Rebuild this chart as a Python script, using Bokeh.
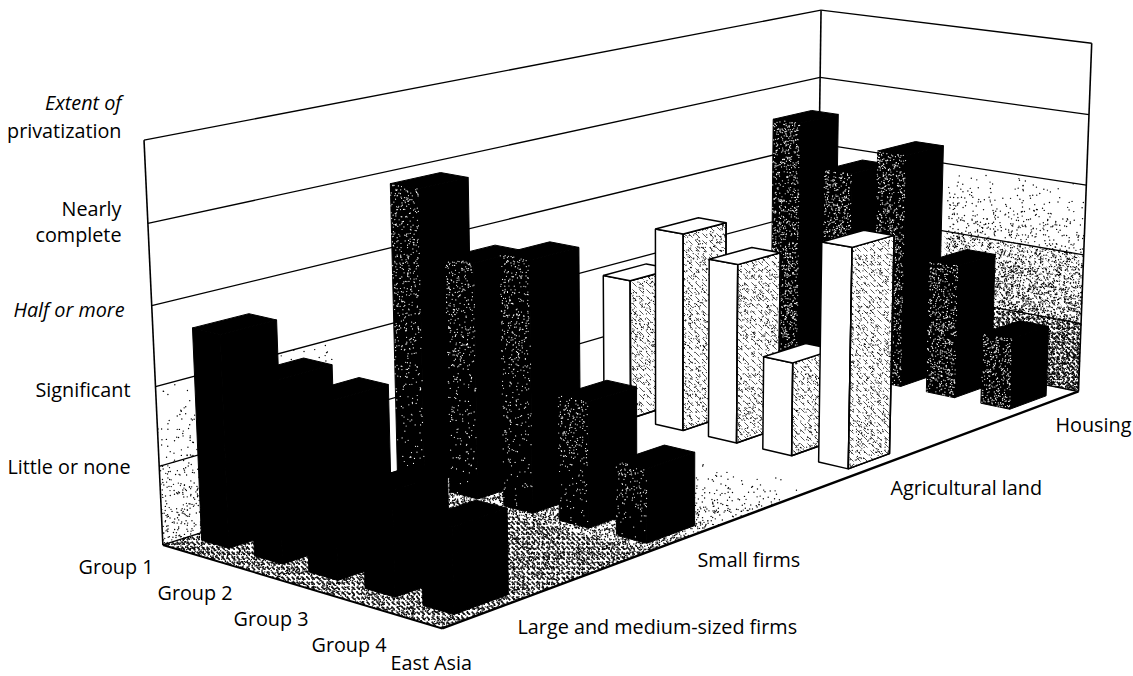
import numpy as np
from bokeh.core.properties import value
from bokeh.embed import file_html
from bokeh.models import Range1d
from bokeh.plotting import figure
from bokeh.resources import INLINE

# Category and series names
groups = ["Group 1", "Group 2", "Group 3", "Group 4", "East Asia"]
sectors = ["Large and medium-sized firms", "Small firms", "Agricultural land", "Housing"]

# Extent of privatization per group, one list per sector
large_firms = [2.68, 2.28, 2.2, 1.3, 1.05]
small_firms = [3.9, 3.08, 3.26, 1.62, 0.95]
agricultural_land = [1.96, 2.75, 2.47, 1.28, 2.98]
housing = [3.6, 2.98, 3.37, 1.92, 1.02]
series = [large_firms, small_firms, agricultural_land, housing]

# Level labels on the left wall
levels = [1, 2, 3, 4, 5]
level_labels = [["Little or none"], ["Significant"], ["Half or more"],
                ["Nearly", "complete"], ["Extent of", "privatization"]]
level_italic = [[False], [False], [True], [False, False], [True, False]]
level_label_x = [130, 130, 124, 121, 121]
level_label_y = [[466], [389], [309], [208, 234], [102, 130]]

# Camera: image points of known box positions (u along groups, v along sectors, z up)
box_world = np.array([
    (0, 0, 0), (0, 0, 1), (0, 0, 2), (0, 0, 3), (0, 0, 4), (0, 0, 5),
    (5, 0, 0),
    (0, 4, 5), (0, 4, 4), (0, 4, 3),
    (5, 4, 0), (5, 4, 1), (5, 4, 2), (5, 4, 3), (5, 4, 4), (5, 4, 5),
], dtype=float)
box_image = np.array([
    (162, 545), (158, 465), (156, 386), (152, 305), (147, 223), (143, 140),
    (442, 628),
    (820, 10), (819, 77), (820, 143),
    (1078, 392), (1080, 322), (1083, 255), (1086, 184), (1088, 114), (1092, 43),
], dtype=float)


def fit_camera(world, image):
    rows = []
    for (x, y, z), (a, b) in zip(world, image):
        rows.append([x, y, z, 1, 0, 0, 0, 0, -a * x, -a * y, -a * z, -a])
        rows.append([0, 0, 0, 0, x, y, z, 1, -b * x, -b * y, -b * z, -b])
    return np.linalg.svd(np.array(rows))[2][-1].reshape(3, 4)


CAMERA = fit_camera(box_world, box_image)


def project(points):
    pts = np.asarray(points, dtype=float)
    homog = np.c_[pts, np.ones(len(pts))] @ CAMERA.T
    return homog[:, 0] / homog[:, 2], homog[:, 1] / homog[:, 2]


p = figure(width=1133, height=676, x_range=Range1d(0, 1133), y_range=Range1d(676, 0),
           toolbar_location=None, output_backend="svg", min_border=0,
           background_fill_color="white", border_fill_color="white", outline_line_color=None)
p.axis.visible = False
p.grid.visible = False


def face(corners, fill="white", line=None, width=1.0, **hatch):
    xs, ys = project(corners)
    kwargs = dict(fill_color=fill, line_color=line, line_width=width)
    if fill is None:
        kwargs["fill_alpha"] = 0
    kwargs.update(hatch)
    p.patches([list(xs)], [list(ys)], **kwargs)


def segment(a, b, width=1.3, color="black"):
    xs, ys = project([a, b])
    p.line(list(xs), list(ys), line_color=color, line_width=width)


def hatch(corners, pattern, scale, weight, alpha):
    face(corners, fill=None, hatch_pattern=pattern, hatch_scale=scale,
         hatch_weight=weight, hatch_color="black", hatch_alpha=alpha)


# Halftone grain: hashed point positions thinned by a density ramp along the face
grain_offset = 0


def hashed(index, a, b):
    return (np.sin(index * a + b) * 43758.5453) % 1


def grain(corners, density_low, density_high, color="black", size=1.4):
    """Stipple a quad; density runs from the edge 0-1 to the edge 3-2."""
    global grain_offset
    corners = np.asarray(corners, dtype=float)
    xs, ys = project(corners)
    area = 0.5 * abs(np.dot(xs, np.roll(ys, 1)) - np.dot(ys, np.roll(xs, 1)))
    peak = max(density_low, density_high)
    count = int(area * peak)
    if count == 0:
        return
    index = np.arange(1, count + 1, dtype=float) + grain_offset
    grain_offset += count
    s, t, keep = hashed(index, 12.9898, 0.3), hashed(index, 78.233, 1.7), hashed(index, 37.719, 2.9)
    keep_mask = keep * peak < density_low + (density_high - density_low) * t
    s, t = s[keep_mask][:, None], t[keep_mask][:, None]
    world = (1 - t) * ((1 - s) * corners[0] + s * corners[1]) + t * ((1 - s) * corners[3] + s * corners[2])
    gx, gy = project(world)
    p.scatter(list(gx), list(gy), marker="circle", size=size, fill_color=color, line_color=None)


# Graded shading on the left wall, only near its front edge
grain([(0, 0, 0), (0, 0.9, 0), (0, 0.9, 1), (0, 0, 1)], 0.1, 0.03)
grain([(0, 0, 1), (0, 0.9, 1), (0, 0.9, 2), (0, 0, 2)], 0.03, 0.005)

# Graded shading on the back wall, visible beyond the tall bars
hatch([(0, 4, 0), (5, 4, 0), (5, 4, 1), (0, 4, 1)], "left_diagonal_dash", 5, 1.6, 0.9)
hatch([(0, 4, 1), (5, 4, 1), (5, 4, 2), (0, 4, 2)], "left_diagonal_dash", 6, 0.8, 0.3)
grain([(2.5, 4, 0), (5, 4, 0), (5, 4, 1), (2.5, 4, 1)], 0.45, 0.32)
grain([(2.5, 4, 1), (5, 4, 1), (5, 4, 2), (2.5, 4, 2)], 0.3, 0.12)
grain([(2.5, 4, 2), (5, 4, 2), (5, 4, 3), (2.5, 4, 3)], 0.07, 0.0)

# Graded shading on the floor
floor_front = [(0, 0, 0), (5, 0, 0), (5, 1.1, 0), (0, 1.1, 0)]
hatch(floor_front, "left_diagonal_dash", 5, 1.7, 0.9)
grain(floor_front, 0.22, 0.22)
grain([(0, 1.1, 0), (5, 1.1, 0), (5, 1.5, 0), (0, 1.5, 0)], 0.35, 0.1)
grain([(0, 1.5, 0), (5, 1.5, 0), (5, 2.15, 0), (0, 2.15, 0)], 0.1, 0.0)

# Wall frame and level lines
for z in [0] + levels:
    segment((0, 0, z), (0, 4, z))
    segment((0, 4, z), (5, 4, z))
for corner in [(0, 0), (0, 4), (5, 4)]:
    segment((*corner, 0), (*corner, 5), width=1.6)
segment((0, 0, 0), (5, 0, 0), width=2)
segment((5, 0, 0), (5, 4, 0), width=2.4)

# Bars, back row first and from the far group forwards
BAR_U = 0.52
BAR_V = 0.28
ROW_CENTRE = [0.27, 1.31, 2.56, 3.71]


def bar(u, centre, height, row):
    u0, u1 = u + (1 - BAR_U) / 2, u + (1 + BAR_U) / 2
    v0, v1 = centre - BAR_V / 2, centre + BAR_V / 2
    front = [(u0, v0, 0), (u1, v0, 0), (u1, v0, height), (u0, v0, height)]
    side = [(u1, v0, 0), (u1, v1, 0), (u1, v1, height), (u1, v0, height)]
    top = [(u0, v0, height), (u1, v0, height), (u1, v1, height), (u0, v1, height)]
    if row == 2:
        face(front, fill="white", line="black", width=1.5)
        face(side, fill="white", line="black", width=1.5)
        hatch(side, "left_diagonal_dash", 7, 0.9, 0.75)
        grain(side, 0.08, 0.08, size=1.2)
        face(side, fill=None, line="black", width=1.5)
        face(top, fill="white", line="black", width=1.5)
        return
    for target in (front, side, top):
        face(target, fill="black", line="black", width=1.0)
    # White grain on the lit face; in the small-firm row it dies away towards the floor
    if row == 3:
        grain(front, 0.14, 0.16, color="white", size=1.2)
    elif row == 1:
        grain(front, 0.01, 0.11, color="white", size=1.2)


for row in reversed(range(len(series))):
    for i, height in enumerate(series[row]):
        bar(i, ROW_CENTRE[row], height, row)

# Text labels
FONT = value("Open Sans")
SIZE = "19.8px"


def label(x, y, text, align="left", italic=False):
    p.text([x], [y], text=[text], text_font=FONT, text_font_size=SIZE, text_color="black",
           text_align=align, text_baseline="middle",
           text_font_style="italic" if italic else "normal")


for lines, flags, x, ys in zip(level_labels, level_italic, level_label_x, level_label_y):
    for text, flag, y in zip(lines, flags, ys):
        label(x, y, text, "right", flag)

for text, x, y in zip(groups, [78, 157, 233, 311, 390], [566, 592, 618, 644, 662]):
    label(x, y, text)
for text, x, y in zip(sectors, [517, 697, 890, 1055], [626, 559, 487, 424]):
    label(x, y, text)

open("out.html", "w").write(file_html(p, INLINE))
